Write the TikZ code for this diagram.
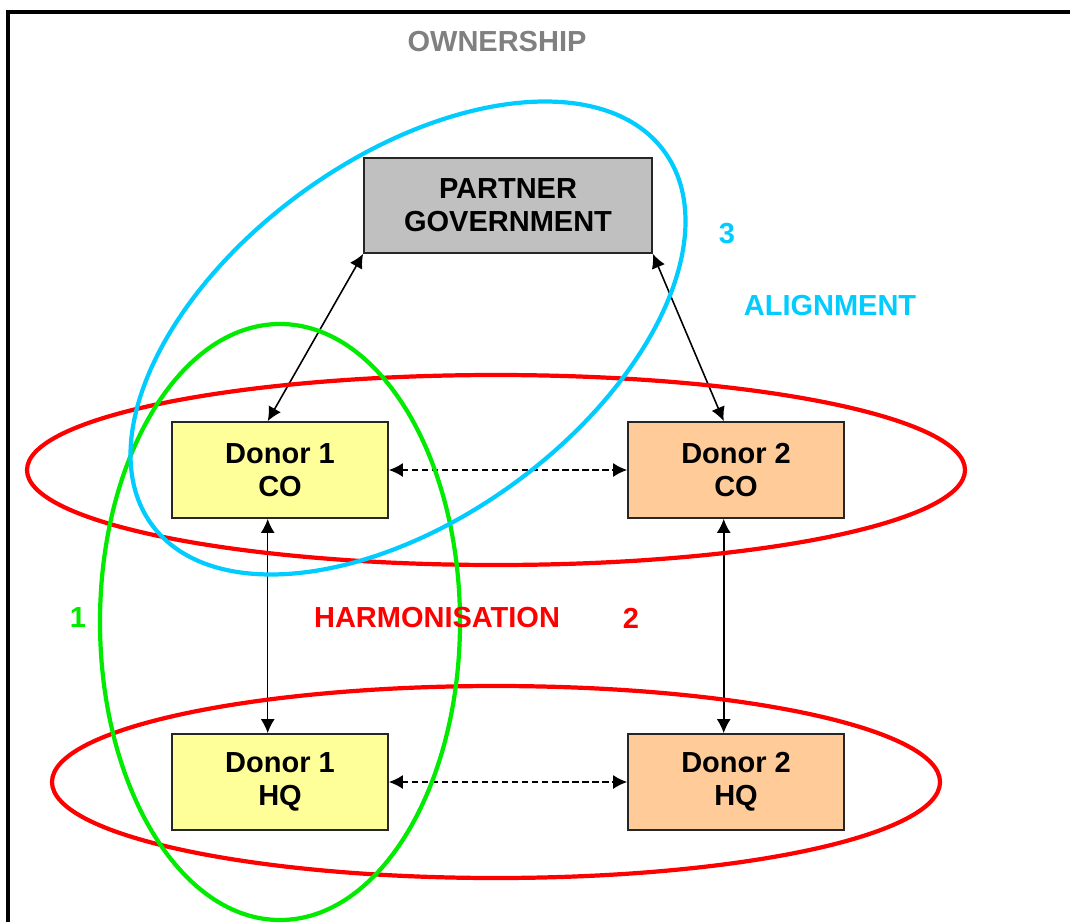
\documentclass[tikz,border=0pt]{standalone}
\usepackage{fontspec}
\setmainfont{Liberation Sans}
\usetikzlibrary{arrows.meta}

\definecolor{ownergray}{RGB}{128,128,128}
\definecolor{aligncyan}{RGB}{0,204,255}
\definecolor{harmred}{RGB}{255,0,0}
\definecolor{ringgreen}{RGB}{0,235,0}
\definecolor{govgray}{RGB}{192,192,192}
\definecolor{donoryellow}{RGB}{255,255,153}
\definecolor{donororange}{RGB}{255,204,153}

\tikzset{
	box/.style={draw=black!85, line width=1pt, align=center, inner sep=0pt,
		minimum width=4.32cm, minimum height=1.92cm,
		font=\fontsize{16.5}{18.7}\selectfont\bfseries},
	label/.style={font=\fontsize{16.5}{18.7}\selectfont\bfseries, inner sep=0pt},
	ring/.style={line width=2.4pt},
	link/.style={line width=0.9pt, {Latex[length=8pt,width=8pt]}-{Latex[length=8pt,width=8pt]}},
	dashlink/.style={link, dash pattern=on 3.5pt off 2.2pt}
}

\begin{document}
\begin{tikzpicture}[x=0.02cm,y=-0.02cm]
	\useasboundingbox (0,0) rectangle (1070,922);
	
	\draw[line width=1.8pt] (8,922) -- (8,12) -- (1070,12);
	
	\node[box, fill=govgray, minimum width=5.76cm, minimum height=1.9cm] (gov) at (508,205.5) {PARTNER\\GOVERNMENT};
	\node[box, fill=donoryellow] (d1co) at (280,470) {Donor 1\\CO};
	\node[box, fill=donororange] (d2co) at (736,470) {Donor 2\\CO};
	\node[box, fill=donoryellow] (d1hq) at (280,782) {Donor 1\\HQ};
	\node[box, fill=donororange] (d2hq) at (736,782) {Donor 2\\HQ};
	
	\draw[link] (gov.south west) -- ([xshift=-7pt]d1co.north);
	\draw[link] (gov.south east) -- ([xshift=-7pt]d2co.north);
	\draw[dashlink] (d1co) -- (d2co);
	\draw[dashlink] (d1hq) -- (d2hq);
	\draw[link] ([xshift=-7pt]d1co.south) -- ([xshift=-7pt]d1hq.north);
	\draw[link] ([xshift=-7pt]d2co.south) -- ([xshift=-7pt]d2hq.north);
	
	\draw[ring, harmred] (496,470) ellipse [x radius=469, y radius=95];
	\draw[ring, harmred] (496,782) ellipse [x radius=444, y radius=96];
	\draw[ring, ringgreen] (280,622) ellipse [x radius=180, y radius=298];
	\draw[ring, aligncyan, rotate around={36:(408,338)}] (408,338) ellipse [x radius=317, y radius=180];
	
	\node[label, text=ownergray] (own) at (497,42) {OWNERSHIP};
	\node[label, text=aligncyan] (three) at (727,234) {3};
	\node[label, text=aligncyan] (align) at (830,306) {ALIGNMENT};
	\node[label, text=ringgreen] (one) at (78,618) {1};
	\node[label, text=harmred] (harm) at (437,618) {HARMONISATION};
	\node[label, text=harmred] (two) at (631,618) {2};
	
\end{tikzpicture}
\end{document}
